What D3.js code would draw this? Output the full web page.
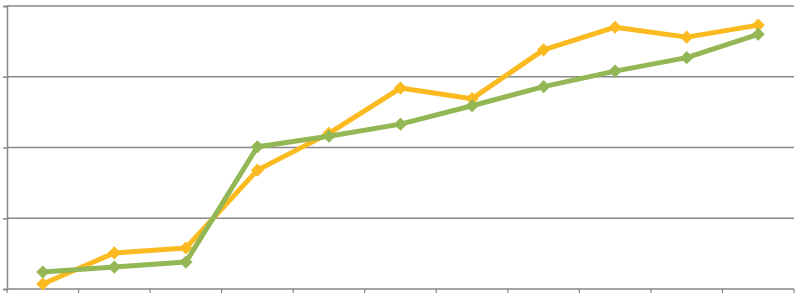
<!DOCTYPE html>
<html>
<head>
<meta charset="utf-8">
<script src="https://cdn.jsdelivr.net/npm/d3@7"></script>
<style>
  body { margin: 0; background: #fff; }
</style>
</head>
<body>
<svg id="chart" width="800" height="299"></svg>
<script>
const categories = ["1", "2", "3", "4", "5", "6", "7", "8", "9", "10", "11"];
const orangeValues = [0.7, 5.1, 5.8, 16.8, 22.0, 28.4, 26.9, 33.8, 37.0, 35.6, 37.3];
const greenValues = [2.4, 3.1, 3.8, 20.1, 21.6, 23.3, 25.9, 28.6, 30.8, 32.7, 36.0];
const yTicks = [0, 10, 20, 30, 40];

const svg = d3.select("#chart"),
      margin = {top: 6, right: 6, bottom: 10, left: 7},
      width = +svg.attr("width") - margin.left - margin.right,
      height = +svg.attr("height") - margin.top - margin.bottom;

const g = svg.append("g").attr("transform", `translate(${margin.left},${margin.top})`);

const x = d3.scaleBand().domain(categories).range([0, width]).padding(0);
const y = d3.scaleLinear().domain([0, 40]).range([height, 0]);

// gridlines
g.append("g")
  .selectAll("line")
  .data(yTicks.slice(1))
  .enter().append("line")
  .attr("x1", 0).attr("x2", width)
  .attr("y1", d => y(d)).attr("y2", d => y(d))
  .attr("stroke", "#878787").attr("stroke-width", 1.5);

// left axis
const yAxis = g.append("g").call(d3.axisLeft(y).tickValues(yTicks).tickSize(4).tickFormat(""));
yAxis.select(".domain").attr("stroke", "#878787").attr("stroke-width", 1.5);
yAxis.selectAll(".tick line").attr("stroke", "#878787").attr("stroke-width", 1.5);

// bottom axis with ticks at band edges
const xEdges = categories.map(c => x(c)).concat([width]);
const xAxis = g.append("g").attr("transform", `translate(0,${height})`);
xAxis.append("line")
  .attr("x1", 0).attr("x2", width)
  .attr("stroke", "#878787").attr("stroke-width", 1.5);
xAxis.selectAll("line.tick")
  .data(xEdges)
  .enter().append("line")
  .attr("class", "tick")
  .attr("x1", d => d).attr("x2", d => d)
  .attr("y1", 0).attr("y2", 4)
  .attr("stroke", "#878787").attr("stroke-width", 1.2);

const cx = d => x(d) + x.bandwidth() / 2;

const series = [
  {values: orangeValues, color: "#FBBA1F"},
  {values: greenValues, color: "#93B754"}
];

const line = d3.line().x((d, i) => cx(categories[i])).y(d => y(d));
const diamond = d3.symbol().type(d3.symbolDiamond2).size(110);

series.forEach(s => {
  g.append("path")
    .datum(s.values)
    .attr("d", line)
    .attr("fill", "none")
    .attr("stroke", s.color)
    .attr("stroke-width", 5)
    .attr("stroke-linejoin", "round");

  g.selectAll(null)
    .data(s.values)
    .enter().append("path")
    .attr("d", diamond)
    .attr("transform", (d, i) => `translate(${cx(categories[i])},${y(d)})`)
    .attr("fill", s.color);
});
</script>
</body>
</html>
